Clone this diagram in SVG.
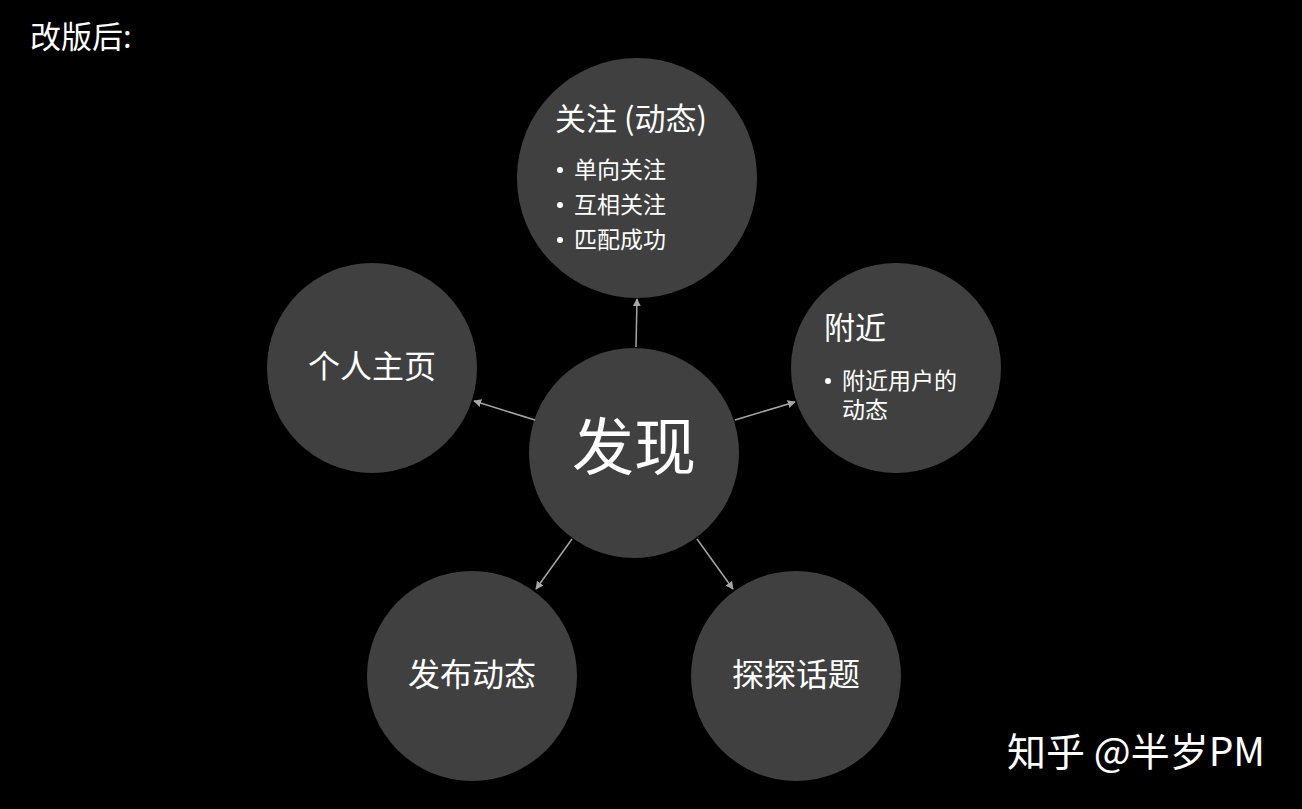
<svg xmlns="http://www.w3.org/2000/svg" width="1302" height="809" viewBox="0 0 1302 809">
<defs>
<style>
.n{fill:#404040}
.t{fill:#fff;font-family:"Noto Sans CJK SC","Noto Sans",sans-serif}
.b{fill:#fff}
.c{stroke:#a6a6a6;stroke-width:1.5;fill:none;marker-end:url(#a)}
</style>
<marker id="a" viewBox="0 0 10 10" refX="9" refY="5" markerWidth="8" markerHeight="8" orient="auto" markerUnits="userSpaceOnUse"><path d="M0,0L10,5L0,10z" fill="#a6a6a6"/></marker>
</defs>
<rect width="1302" height="809" fill="#000"/>
<text class="t" x="30" y="48" font-size="31">改版后:</text>
<g id="follow"><circle class="n" cx="637" cy="178" r="120"/>
<text class="t" x="555" y="130" font-size="31">关注 (动态)</text>
<circle class="b" cx="560" cy="170" r="3"/><text class="t" x="574" y="178" font-size="23">单向关注</text>
<circle class="b" cx="560" cy="205" r="3"/><text class="t" x="574" y="213" font-size="23">互相关注</text>
<circle class="b" cx="560" cy="240" r="3"/><text class="t" x="574" y="248" font-size="23">匹配成功</text></g>
<g id="profile"><circle class="n" cx="372" cy="368" r="105"/>
<text class="t" x="372" y="378" font-size="32" text-anchor="middle">个人主页</text></g>
<g id="nearby"><circle class="n" cx="896" cy="368" r="105"/>
<text class="t" x="824" y="339" font-size="31">附近</text>
<circle class="b" cx="828" cy="381" r="3"/><text class="t" x="842" y="389" font-size="23">附近用户的</text>
<text class="t" x="842" y="418" font-size="23">动态</text></g>
<g id="discover"><circle class="n" cx="634" cy="453" r="105"/>
<text class="t" x="634" y="470" font-size="62" text-anchor="middle">发现</text></g>
<g id="post"><circle class="n" cx="472" cy="676" r="105"/>
<text class="t" x="472" y="686" font-size="32" text-anchor="middle">发布动态</text></g>
<g id="topic"><circle class="n" cx="796" cy="676" r="105"/>
<text class="t" x="796" y="686" font-size="32" text-anchor="middle">探探话题</text></g>
<g id="connectors">
<line class="c" x1="636" y1="347" x2="637" y2="299"/>
<line class="c" x1="535" y1="420" x2="474" y2="401"/>
<line class="c" x1="735" y1="420" x2="795" y2="402"/>
<line class="c" x1="572" y1="539" x2="536" y2="589"/>
<line class="c" x1="697" y1="539" x2="733" y2="589"/>
</g>
<text class="t" x="1265" y="766" font-size="39" text-anchor="end">知乎 @半岁PM</text>
</svg>
